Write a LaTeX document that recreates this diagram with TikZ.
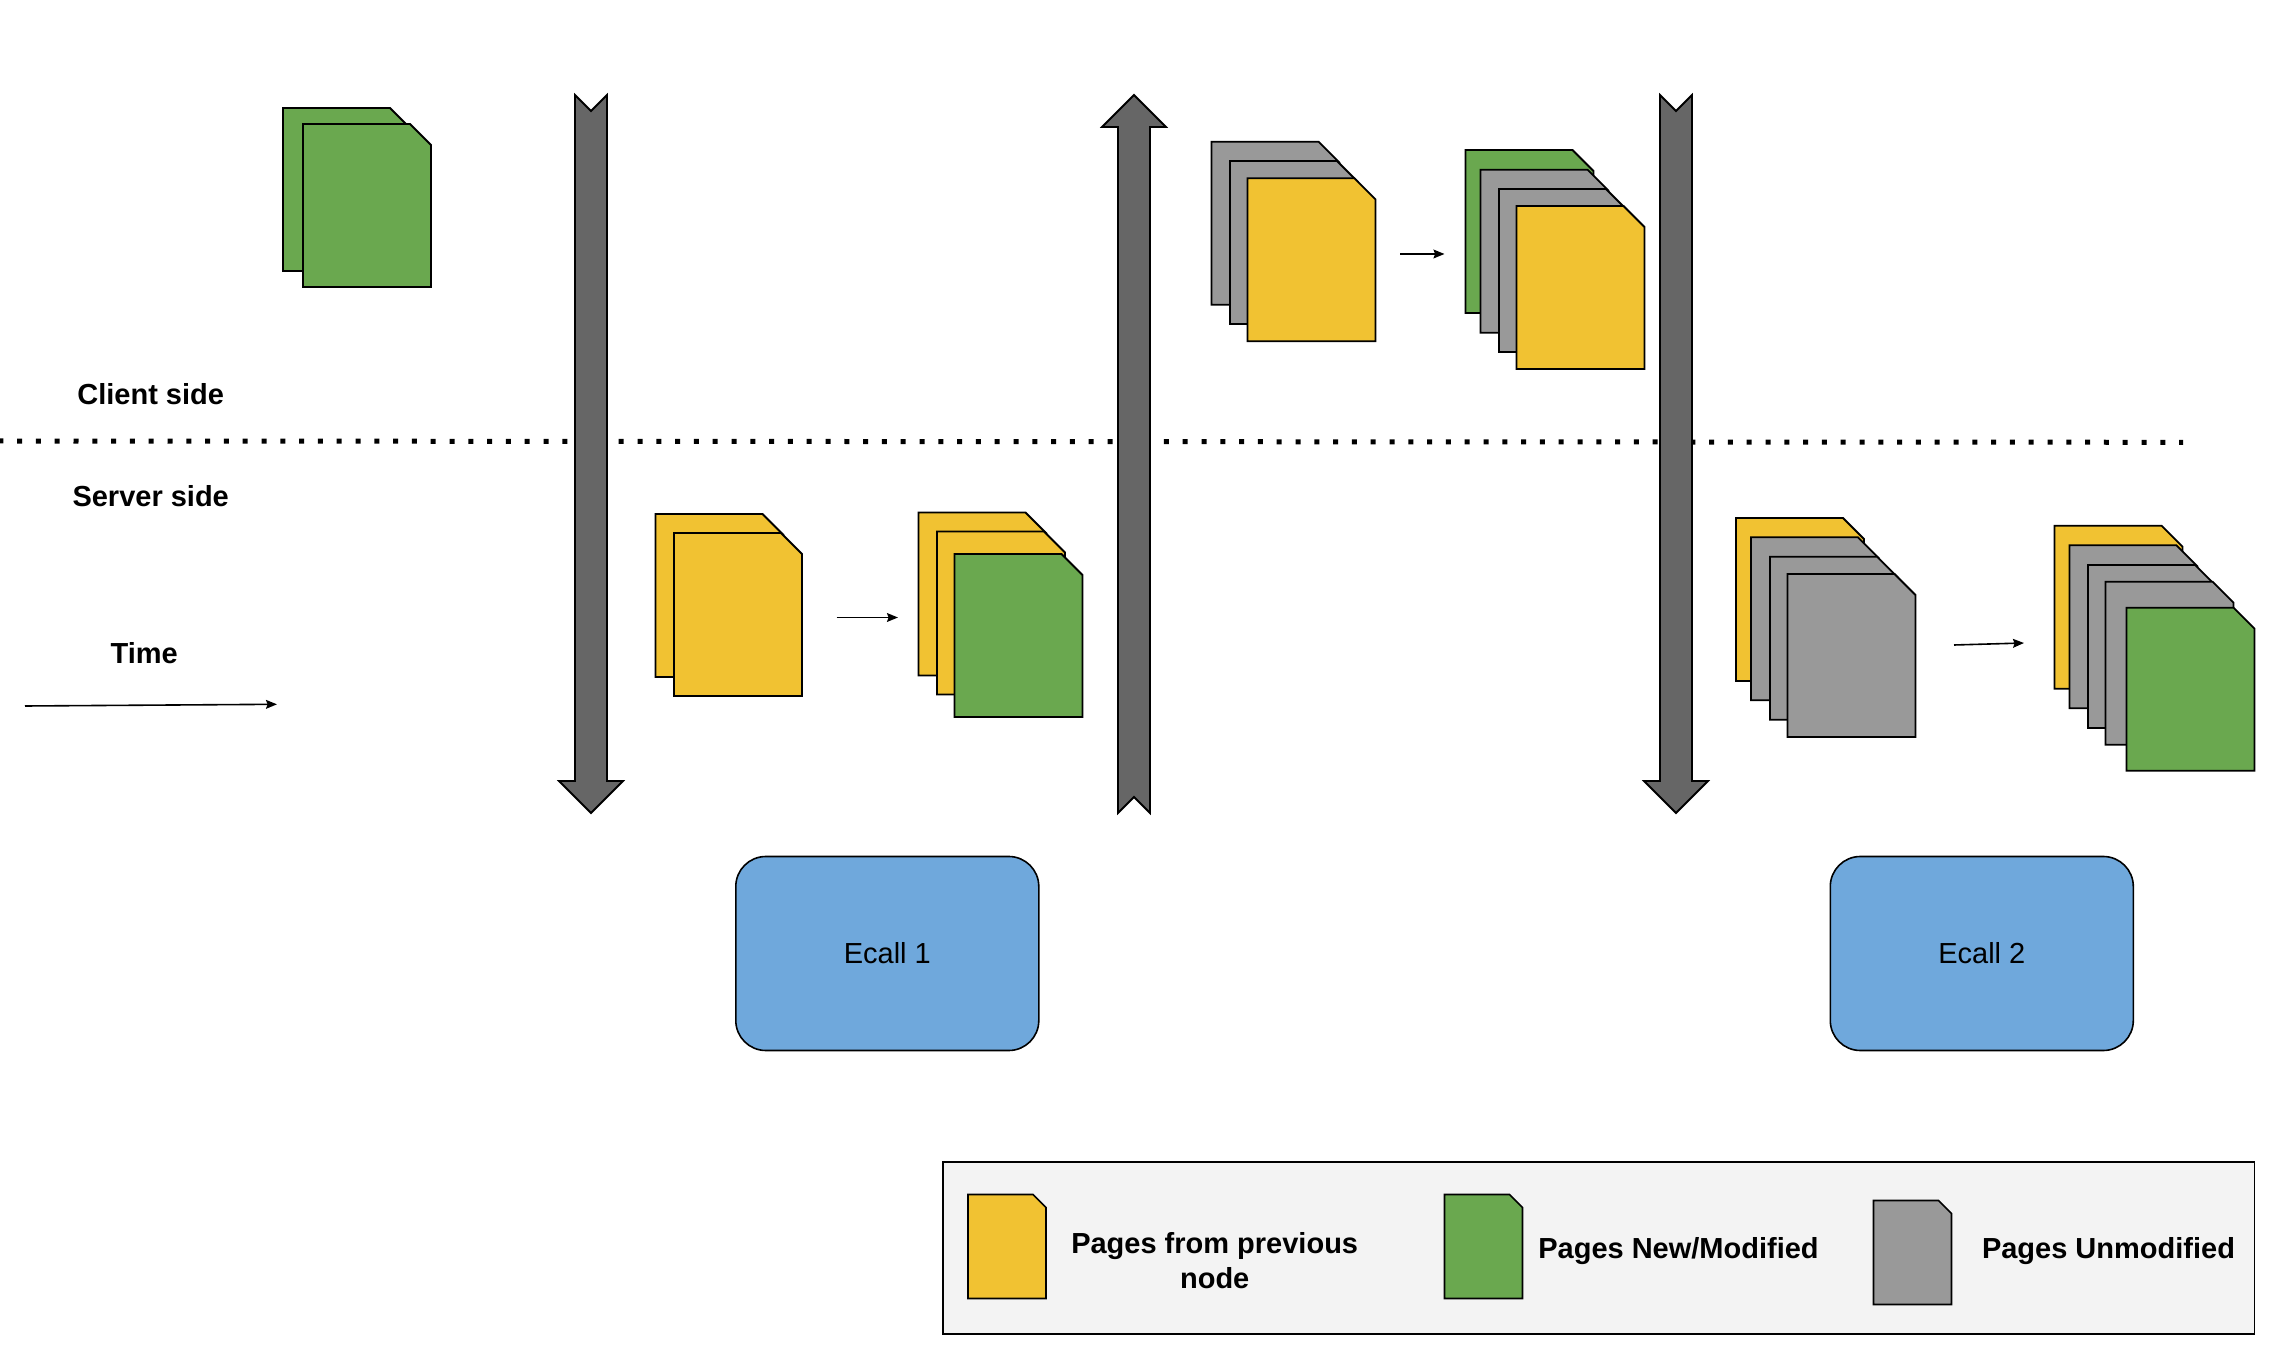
\documentclass[tikz,border=0pt]{standalone}
\usepackage{fontspec}
\setmainfont{Liberation Sans}
\usetikzlibrary{arrows.meta}
\definecolor{pageyellow}{HTML}{F1C232}
\definecolor{pagegreen}{HTML}{6AA84F}
\definecolor{pagegray}{HTML}{999999}
\definecolor{flowgray}{HTML}{666666}
\definecolor{ecallblue}{HTML}{6FA8DC}
\definecolor{keygray}{HTML}{F3F3F3}
\tikzset{
	yellowpage/.style={fill=pageyellow},
	greenpage/.style={fill=pagegreen},
	graypage/.style={fill=pagegray},
	label/.style={font=\fontsize{14.5}{17.25}\selectfont\bfseries, inner sep=0pt, align=center},
	ecall/.style={draw=black, line width=.8pt, fill=ecallblue, rounded corners=15pt, minimum width=151.5pt, minimum height=97pt, inner sep=0pt, font=\fontsize{14.5}{17.25}\selectfont},
	stepline/.style={line width=.8pt, -{Stealth[length=5.5pt,width=4.4pt,inset=.8pt]}},
	sheet/.pic={
		\filldraw[pic actions, draw=black, line width=.9pt] (0,0) -- (107,0) -- (128,21) -- (128,163) -- (0,163) -- cycle;
	},
	keysheet/.pic={
		\filldraw[pic actions, draw=black, line width=.8pt] (0,0) -- (65,0) -- (78,13) -- (78,104) -- (0,104) -- cycle;
	},
	flowarrow/.pic={
		\filldraw[fill=flowgray, draw=black, line width=.9pt] (-16,0) -- (0,16) -- (16,0) -- (16,686) -- (32,686) -- (0,718) -- (-32,686) -- (-16,686) -- cycle;
	}
}

\begin{document}
\begin{tikzpicture}[x=.5pt, y=-.5pt]
	\useasboundingbox (0,0) rectangle (2272,1352);

	\draw[line width=2.5pt, dash pattern=on 2.5pt off 6.9pt] (-1.7,441) -- (2183,442.3);

	\node[label, anchor=base] (client) at (150.7,404.4) {Client side};
	\node[label, anchor=base] (server) at (150.7,506.4) {Server side};
	\node[label, anchor=base] (time) at (144.2,663.4) {Time};
	\coordinate (timeStart) at (25,706);
	\coordinate (timeEnd) at (277,704.3);
	\draw[stepline] (timeStart) -- (timeEnd);

	\pic at (591,95) {flowarrow};
	\pic[rotate=180] at (1134,813) {flowarrow};
	\pic at (1676,95) {flowarrow};

	\pic[greenpage] at (283,108) {sheet};
	\pic[greenpage] at (303,124) {sheet};

	\pic[yellowpage] at (655.5,514) {sheet};
	\pic[yellowpage] at (674,533) {sheet};

	\coordinate (stepOneStart) at (836.5,617.5);
	\coordinate (stepOneEnd) at (898,617.5);
	\draw[stepline] (stepOneStart) -- (stepOneEnd);

	\pic[yellowpage] at (918.5,512.5) {sheet};
	\pic[yellowpage] at (937,531.5) {sheet};
	\pic[greenpage] at (954.5,554) {sheet};

	\pic[graypage] at (1211.5,141.7) {sheet};
	\pic[graypage] at (1230,161) {sheet};
	\pic[yellowpage] at (1247.5,178.3) {sheet};

	\coordinate (stepTwoStart) at (1400,254);
	\coordinate (stepTwoEnd) at (1444.5,254);
	\draw[stepline] (stepTwoStart) -- (stepTwoEnd);

	\pic[greenpage] at (1465.5,150) {sheet};
	\pic[graypage] at (1480.5,169.7) {sheet};
	\pic[graypage] at (1499,189) {sheet};
	\pic[yellowpage] at (1516.5,206) {sheet};

	\pic[yellowpage] at (1736,518) {sheet};
	\pic[graypage] at (1751,537.3) {sheet};
	\pic[graypage] at (1770,556.7) {sheet};
	\pic[graypage] at (1787.5,574) {sheet};

	\coordinate (stepThreeStart) at (1954,645);
	\coordinate (stepThreeEnd) at (2024,643);
	\draw[stepline] (stepThreeStart) -- (stepThreeEnd);

	\pic[yellowpage] at (2054.5,525.7) {sheet};
	\pic[graypage] at (2069.5,545.3) {sheet};
	\pic[graypage] at (2088,565) {sheet};
	\pic[graypage] at (2105.5,581.7) {sheet};
	\pic[greenpage] at (2126.5,607.7) {sheet};

	\node[ecall] (ecallOne) at (887.3,953.5) {Ecall 1};
	\node[ecall] (ecallTwo) at (1981.8,953.5) {Ecall 2};

	\filldraw[fill=keygray, draw=black, line width=.8pt] (943,1162) rectangle (2254.5,1334);
	\pic[yellowpage] at (968,1194.5) {keysheet};
	\pic[greenpage] at (1444.5,1194.5) {keysheet};
	\pic[graypage] at (1873.5,1200.5) {keysheet};
	\node[label] (keyPrevious) at (1214.7,1260.5) {Pages from previous\\node};
	\node[label, anchor=base] (keyNew) at (1678.5,1258.2) {Pages New/Modified};
	\node[label, anchor=base] (keyUnmodified) at (2108.5,1258.2) {Pages Unmodified};
\end{tikzpicture}
\end{document}
